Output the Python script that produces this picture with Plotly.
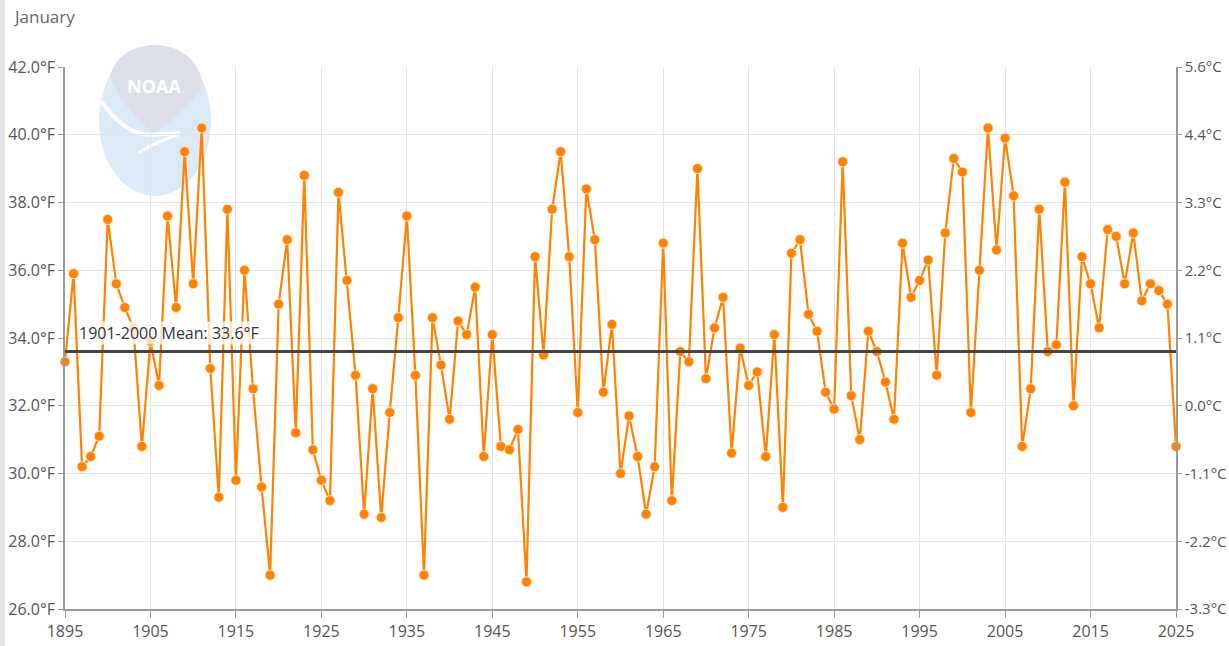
import plotly.graph_objects as go

# ---------------- data ----------------
years = list(range(1895, 2026))
temps_f = [
    33.3, 35.9, 30.2, 30.5, 31.1, 37.5, 35.6, 34.9, 34.3, 30.8,  # 1895-1904
    33.9, 32.6, 37.6, 34.9, 39.5, 35.6, 40.2, 33.1, 29.3, 37.8,  # 1905-1914
    29.8, 36.0, 32.5, 29.6, 27.0, 35.0, 36.9, 31.2, 38.8, 30.7,  # 1915-1924
    29.8, 29.2, 38.3, 35.7, 32.9, 28.8, 32.5, 28.7, 31.8, 34.6,  # 1925-1934
    37.6, 32.9, 27.0, 34.6, 33.2, 31.6, 34.5, 34.1, 35.5, 30.5,  # 1935-1944
    34.1, 30.8, 30.7, 31.3, 26.8, 36.4, 33.5, 37.8, 39.5, 36.4,  # 1945-1954
    31.8, 38.4, 36.9, 32.4, 34.4, 30.0, 31.7, 30.5, 28.8, 30.2,  # 1955-1964
    36.8, 29.2, 33.6, 33.3, 39.0, 32.8, 34.3, 35.2, 30.6, 33.7,  # 1965-1974
    32.6, 33.0, 30.5, 34.1, 29.0, 36.5, 36.9, 34.7, 34.2, 32.4,  # 1975-1984
    31.9, 39.2, 32.3, 31.0, 34.2, 33.6, 32.7, 31.6, 36.8, 35.2,  # 1985-1994
    35.7, 36.3, 32.9, 37.1, 39.3, 38.9, 31.8, 36.0, 40.2, 36.6,  # 1995-2004
    39.9, 38.2, 30.8, 32.5, 37.8, 33.6, 33.8, 38.6, 32.0, 36.4,  # 2005-2014
    35.6, 34.3, 37.2, 37.0, 35.6, 37.1, 35.1, 35.6, 35.4, 35.0,  # 2015-2024
    30.8,                                                        # 2025
]
mean_f = 33.6
mean_label = "1901-2000 Mean: 33.6°F"
title_text = "January"

x_ticks = [1895, 1905, 1915, 1925, 1935, 1945, 1955, 1965, 1975, 1985, 1995, 2005, 2015, 2025]
f_ticks = [26, 28, 30, 32, 34, 36, 38, 40, 42]
f_tick_labels = ["26.0°F", "28.0°F", "30.0°F", "32.0°F", "34.0°F", "36.0°F", "38.0°F", "40.0°F", "42.0°F"]
c_tick_labels = ["-3.3°C", "-2.2°C", "-1.1°C", "0.0°C", "1.1°C", "2.2°C", "3.3°C", "4.4°C", "5.6°C"]

# ---------------- layout geometry (window pixels) ----------------
FIG_W, FIG_H = 1229, 646
L, R, T, B = 65, 1176, 67, 609  # plot area in pixels
PW, PH = R - L, B - T


def px(x):
    return (x - L) / PW


def py(y):
    return (B - y) / PH


def path(cmds):
    out = []
    for c in cmds:
        if isinstance(c, str):
            out.append(c)
        else:
            out.append(f"{px(c[0]):.5f},{py(c[1]):.5f}")
    return " ".join(out)


FONT = "Open Sans, sans-serif"
ORANGE = "#ff8200"
GRID = "#e3e3e3"
AXIS = "#9a9a9a"
TXT = "#555555"
FS = 16

fig = go.Figure()

fig.add_trace(go.Scatter(
    x=years, y=temps_f, mode="lines+markers",
    line=dict(color=ORANGE, width=2.2),
    marker=dict(color=ORANGE, size=10, line=dict(color="#ffe0c0", width=1)),
    cliponaxis=False, showlegend=False, hoverinfo="x+y",
))

fig.add_trace(go.Scatter(
    x=[years[0], years[-1]], y=[mean_f, mean_f], mode="lines",
    line=dict(color="#444444", width=3), yaxis="y2",
    showlegend=False, hoverinfo="skip",
))

shapes = [
    # left hatched strip
    dict(type="rect", xref="paper", yref="paper", x0=px(0), x1=px(5), y0=py(0), y1=py(646),
         fillcolor="#e4e4e4", line=dict(width=0), layer="below"),
    # NOAA logo watermark
    dict(type="circle", xref="paper", yref="paper", x0=px(99), x1=px(211), y0=py(196), y1=py(45),
         fillcolor="#dbeaf7", line=dict(width=0), layer="below"),
    dict(type="path", xref="paper", yref="paper", layer="below",
         path=path(["M", (110, 76), "C", (116, 53), (138, 45), (155, 45),
                    "C", (177, 45), (200, 58), (203, 86),
                    "C", (190, 104), (170, 124), (152, 133),
                    "C", (134, 116), (118, 98), (110, 76), "Z"]),
         fillcolor="#dcdee8", line=dict(width=0)),
    dict(type="path", xref="paper", yref="paper", layer="below",
         path=path(["M", (101, 101), "Q", (124, 134), (150, 135), "L", (180, 133)]),
         line=dict(color="white", width=4)),
    dict(type="path", xref="paper", yref="paper", layer="below",
         path=path(["M", (138, 153), "Q", (158, 141), (180, 134)]),
         line=dict(color="white", width=3)),
]

annotations = [
    dict(text=title_text, xref="paper", yref="paper", x=px(11), y=py(16),
         xanchor="left", yanchor="middle", showarrow=False,
         font=dict(family=FONT, size=17, color="#666666")),
    dict(text="<b>NOAA</b>", xref="paper", yref="paper", x=px(154), y=py(86),
         xanchor="center", yanchor="middle", showarrow=False,
         font=dict(family=FONT, size=18, color="white")),
    dict(text=mean_label, xref="paper", yref="paper", x=px(78), y=py(333),
         xanchor="left", yanchor="middle", showarrow=False,
         bgcolor="rgba(255,255,255,0.75)", borderpad=0,
         font=dict(family=FONT, size=FS, color="#333333")),
]

axis_common = dict(showline=True, linecolor=AXIS, linewidth=1.5, ticks="outside",
                   tickcolor=AXIS, zeroline=False, automargin=False)

fig.update_layout(
    width=FIG_W, height=FIG_H,
    margin=dict(l=L, r=FIG_W - R, t=T, b=FIG_H - B, pad=0, autoexpand=False),
    paper_bgcolor="white", plot_bgcolor="rgba(0,0,0,0)",
    font=dict(family=FONT, size=FS, color=TXT),
    xaxis=dict(range=[1895, 2025], tickvals=x_ticks, ticktext=[str(v) for v in x_ticks],
               showgrid=True, gridcolor=GRID, gridwidth=1, ticklen=7,
               tickfont=dict(family=FONT, size=FS, color=TXT), **axis_common),
    yaxis=dict(range=[26, 42], tickvals=f_ticks, ticktext=f_tick_labels,
               showgrid=True, gridcolor=GRID, gridwidth=1, ticklen=5,
               tickfont=dict(family=FONT, size=FS, color=TXT), **axis_common),
    yaxis2=dict(range=[26, 42], overlaying="y", side="right",
                tickvals=f_ticks, ticktext=c_tick_labels,
                showgrid=False, ticklen=4,
                tickfont=dict(family=FONT, size=15, color=TXT), **axis_common),
    shapes=shapes, annotations=annotations,
    hovermode="closest",
)

fig.write_html(
    "out.html",
    config={"displayModeBar": False},
    post_script="document.body.style.margin='0';document.body.style.overflow='hidden';",
)
